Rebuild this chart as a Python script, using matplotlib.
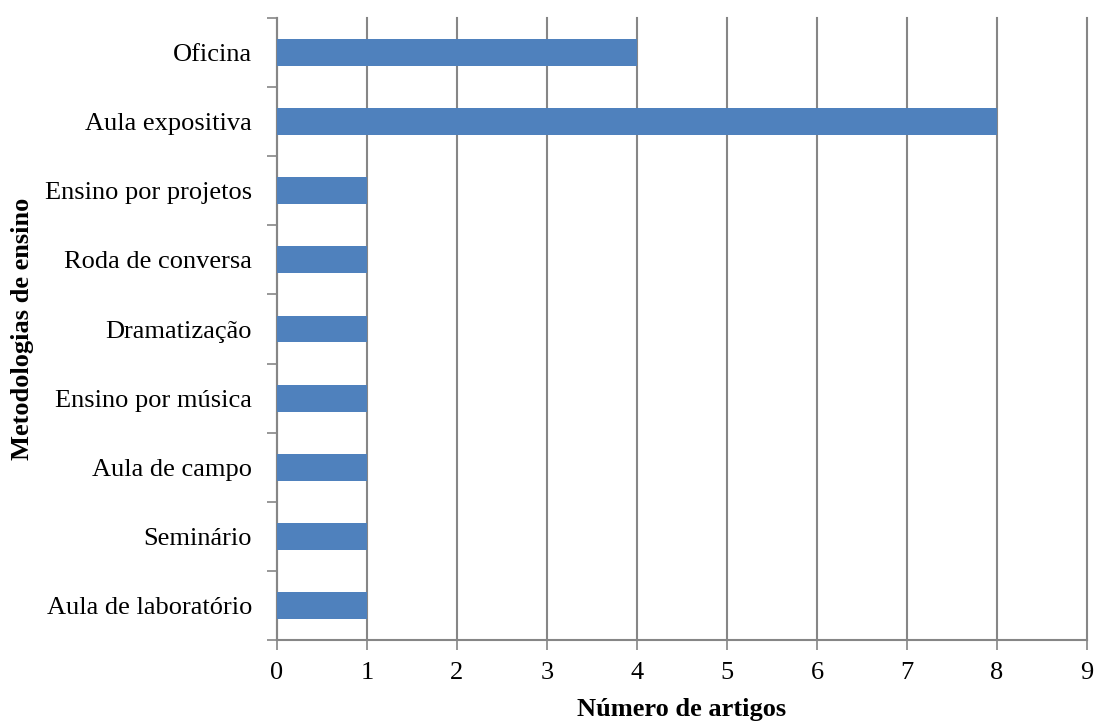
import matplotlib.pyplot as plt
import numpy as np

categorias = ['Aula de laboratório', 'Seminário', 'Aula de campo', 'Ensino por música',
              'Dramatização', 'Roda de conversa', 'Ensino por projetos', 'Aula expositiva', 'Oficina']
artigos = [1, 1, 1, 1, 1, 1, 1, 8, 4]
xticks = list(range(0, 10))

plt.rcParams['font.family'] = ['Liberation Serif', 'DejaVu Serif']

fig = plt.figure(figsize=(10.96, 7.22), dpi=100)
ax = fig.add_axes([0.2527, 0.1136, 0.7391, 0.8614])

y = np.arange(len(categorias))
ax.barh(y, artigos, height=0.39, color='#4F81BD', zorder=3)

ax.set_xlim(0, 9)
ax.set_ylim(-0.5, len(categorias) - 0.5)
ax.set_xticks(xticks)
ax.set_xticklabels([str(t) for t in xticks], fontsize=19)
ax.set_yticks(y)
ax.set_yticklabels(categorias, fontsize=19)
ax.tick_params(axis='y', length=0, pad=18)
ax.set_yticks(np.arange(-0.5, len(categorias)), minor=True)
ax.tick_params(axis='y', which='minor', length=7, width=1.2, color='#868686')
ax.tick_params(axis='x', length=7, width=1.2, color='#868686', pad=9)

ax.grid(axis='x', color='#868686', linewidth=1.5, zorder=0)
for gl in ax.xaxis.get_gridlines():
    gl.set_clip_on(False)
for s in ['top', 'right']:
    ax.spines[s].set_visible(False)
for s in ['left', 'bottom']:
    ax.spines[s].set_color('#868686')
    ax.spines[s].set_linewidth(1.5)

ax.set_xlabel('Número de artigos', fontsize=19, fontweight='bold', labelpad=10)
ax.set_ylabel('Metodologias de ensino', fontsize=19, fontweight='bold', labelpad=8)

fig.savefig('out.png', dpi=100)
